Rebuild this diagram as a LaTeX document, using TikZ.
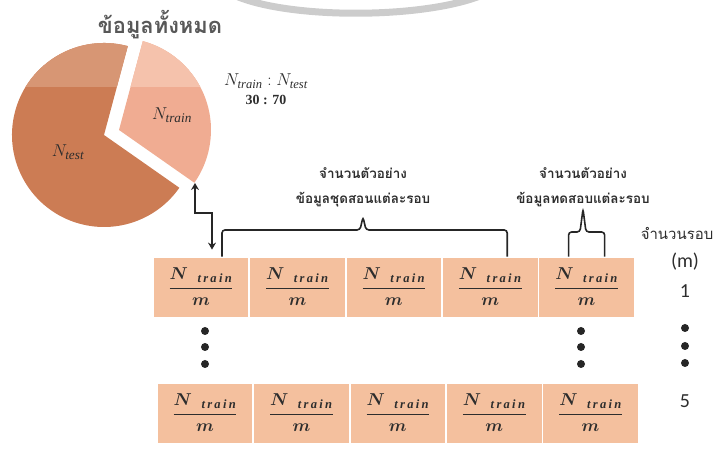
\documentclass[tikz,border=0pt]{standalone}
\usepackage{fontspec}
\setmainfont{Liberation Serif}
\newfontfamily\thaifont[Script=Thai]{Loma}
\newfontfamily\numfont{Carlito}
\usepackage{tikz}
\usetikzlibrary{positioning,arrows.meta}
\definecolor{cellpeach}{RGB}{244,192,158}
\definecolor{testbrown}{RGB}{204,124,84}
\definecolor{testlight}{RGB}{215,150,116}
\definecolor{trainpink}{RGB}{240,172,146}
\definecolor{trainlight}{RGB}{245,194,172}
\definecolor{txtgray}{RGB}{45,45,45}
\definecolor{titlegray}{RGB}{88,88,88}
\tikzset{
  cellnode/.style={rectangle,fill=cellpeach,draw=white,line width=0.8bp,minimum width=95.6bp,minimum height=60bp,inner sep=0pt,font=\fontsize{18}{20}\selectfont,text=txtgray},
  thlabel/.style={align=center,font=\thaifont\bfseries\fontsize{13.5}{25}\selectfont,text=txtgray},
  numlabel/.style={font=\numfont\fontsize{20}{22}\selectfont,text=txtgray},
  dotnode/.style={circle,fill=black!85,inner sep=0pt,minimum size=8bp},
  bracepath/.style={line width=1.6bp,color=black!85,rounded corners=3bp},
  dblarr/.style={<->,>={Stealth[length=7bp,width=8bp]},line width=1.6bp,color=black!85}
}
\newcommand{\Nfrac}{{\boldmath$\displaystyle\frac{N_{\;\;\;\mathit{t\,r\,a\,i\,n}}}{m}$}}

\begin{document}
\begin{tikzpicture}[x=1bp,y=1bp]
  \useasboundingbox (0,0) rectangle (716,453);
  %% grey frame arc at the top
  \begin{scope}
    \clip (0,0) rectangle (716,453);
    \draw[line width=7bp,gray!40] (236,457) .. controls (290,434) and (420,434) .. (480,457);
  \end{scope}

  %% Pie: all data, N_test 70 / N_train 30 (pulled out)
  \coordinate (pc) at (104,318);
  \coordinate (pt) at (119,323);
  \fill[testbrown] (pc) -- ++(75:92bp) arc[start angle=75,end angle=325,radius=92bp] -- cycle;
  \fill[trainpink] (pt) -- ++(-35:92bp) arc[start angle=-35,end angle=75,radius=92bp] -- cycle;
  \begin{scope}
    \clip (0,366) rectangle (716,453);
    \fill[testlight] (pc) -- ++(75:92bp) arc[start angle=75,end angle=325,radius=92bp] -- cycle;
    \fill[trainlight] (pt) -- ++(-35:92bp) arc[start angle=-35,end angle=75,radius=92bp] -- cycle;
  \end{scope}
  \node[font=\fontsize{19}{21}\selectfont,text=txtgray] (ntrain) at (172,338) {$N_{\mathit{train}}$};
  \node[font=\fontsize{19}{21}\selectfont,text=txtgray] (ntest) at (68,301) {$N_{\mathit{test}}$};
  \node[font=\thaifont\bfseries\fontsize{22}{24}\selectfont,text=titlegray] (title) at (160,428) {ข้อมูลทั้งหมด};
  \node[font=\fontsize{18}{20}\selectfont,text=txtgray] (ratio) at (266,372) {$N_{\mathit{train}}:N_{\mathit{test}}$};
  \node[font=\bfseries\fontsize{14}{16}\selectfont,text=txtgray,below=0pt of ratio] (ratioval) {30 : 70};

  %% Row 1
  \node[cellnode] (c11) at (201,166) {\Nfrac};
  \node[cellnode,right=0pt of c11] (c12) {\Nfrac};
  \node[cellnode,right=0pt of c12] (c13) {\Nfrac};
  \node[cellnode,right=0pt of c13] (c14) {\Nfrac};
  \node[cellnode,right=0pt of c14] (c15) {\Nfrac};

  %% Row 5
  \node[cellnode] (c21) at (205,40) {\Nfrac};
  \node[cellnode,right=0pt of c21] (c22) {\Nfrac};
  \node[cellnode,right=0pt of c22] (c23) {\Nfrac};
  \node[cellnode,right=0pt of c23] (c24) {\Nfrac};
  \node[cellnode,right=0pt of c24] (c25) {\Nfrac};

  %% dots between the rows
  \node[dotnode] (dl1) at (205,122) {};
  \node[dotnode] (dl2) at (205,106) {};
  \node[dotnode] (dl3) at (205,89) {};
  \node[dotnode] (dm1) at (581,122) {};
  \node[dotnode] (dm2) at (581,106) {};
  \node[dotnode] (dm3) at (581,89) {};

  %% round counter column
  \node[font=\thaifont\fontsize{15}{17}\selectfont,text=txtgray] (rnd) at (677,220) {จำนวนรอบ};
  \node[numlabel] (rndm) at (685,191) {(m)};
  \node[numlabel] (rnd1) at (685,162) {1};
  \node[dotnode] (dr1) at (685,125) {};
  \node[dotnode] (dr2) at (685,107) {};
  \node[dotnode] (dr3) at (685,90) {};
  \node[numlabel] (rnd5) at (685,52) {5};

  %% braces and their labels
  \coordinate (trtip) at (363,236);
  \coordinate (tetip) at (583,244);
  \draw[bracepath] ([xshift=21bp]c11.north) |- (360,223) -- (trtip) -- (366,223) -| ([xshift=17bp]c14.north);
  \draw[bracepath] ([xshift=-18bp]c15.north) |- (580,221) -- (tetip) -- (586,221) -| ([xshift=18bp]c15.north);
  \node[thlabel] (trlab) at (363,266) {จำนวนตัวอย่าง\\ข้อมูลชุดสอนแต่ละรอบ};
  \node[thlabel] (telab) at (583,266) {จำนวนตัวอย่าง\\ข้อมูลทดสอบแต่ละรอบ};

  %% arrow between pie and first row
  \coordinate (pietip) at (195,270);
  \coordinate (celltop) at ([xshift=11bp,yshift=7bp]c11.north);
  \draw[dblarr] (pietip) -- ++(0,-30) -| (celltop);
\end{tikzpicture}
\end{document}
